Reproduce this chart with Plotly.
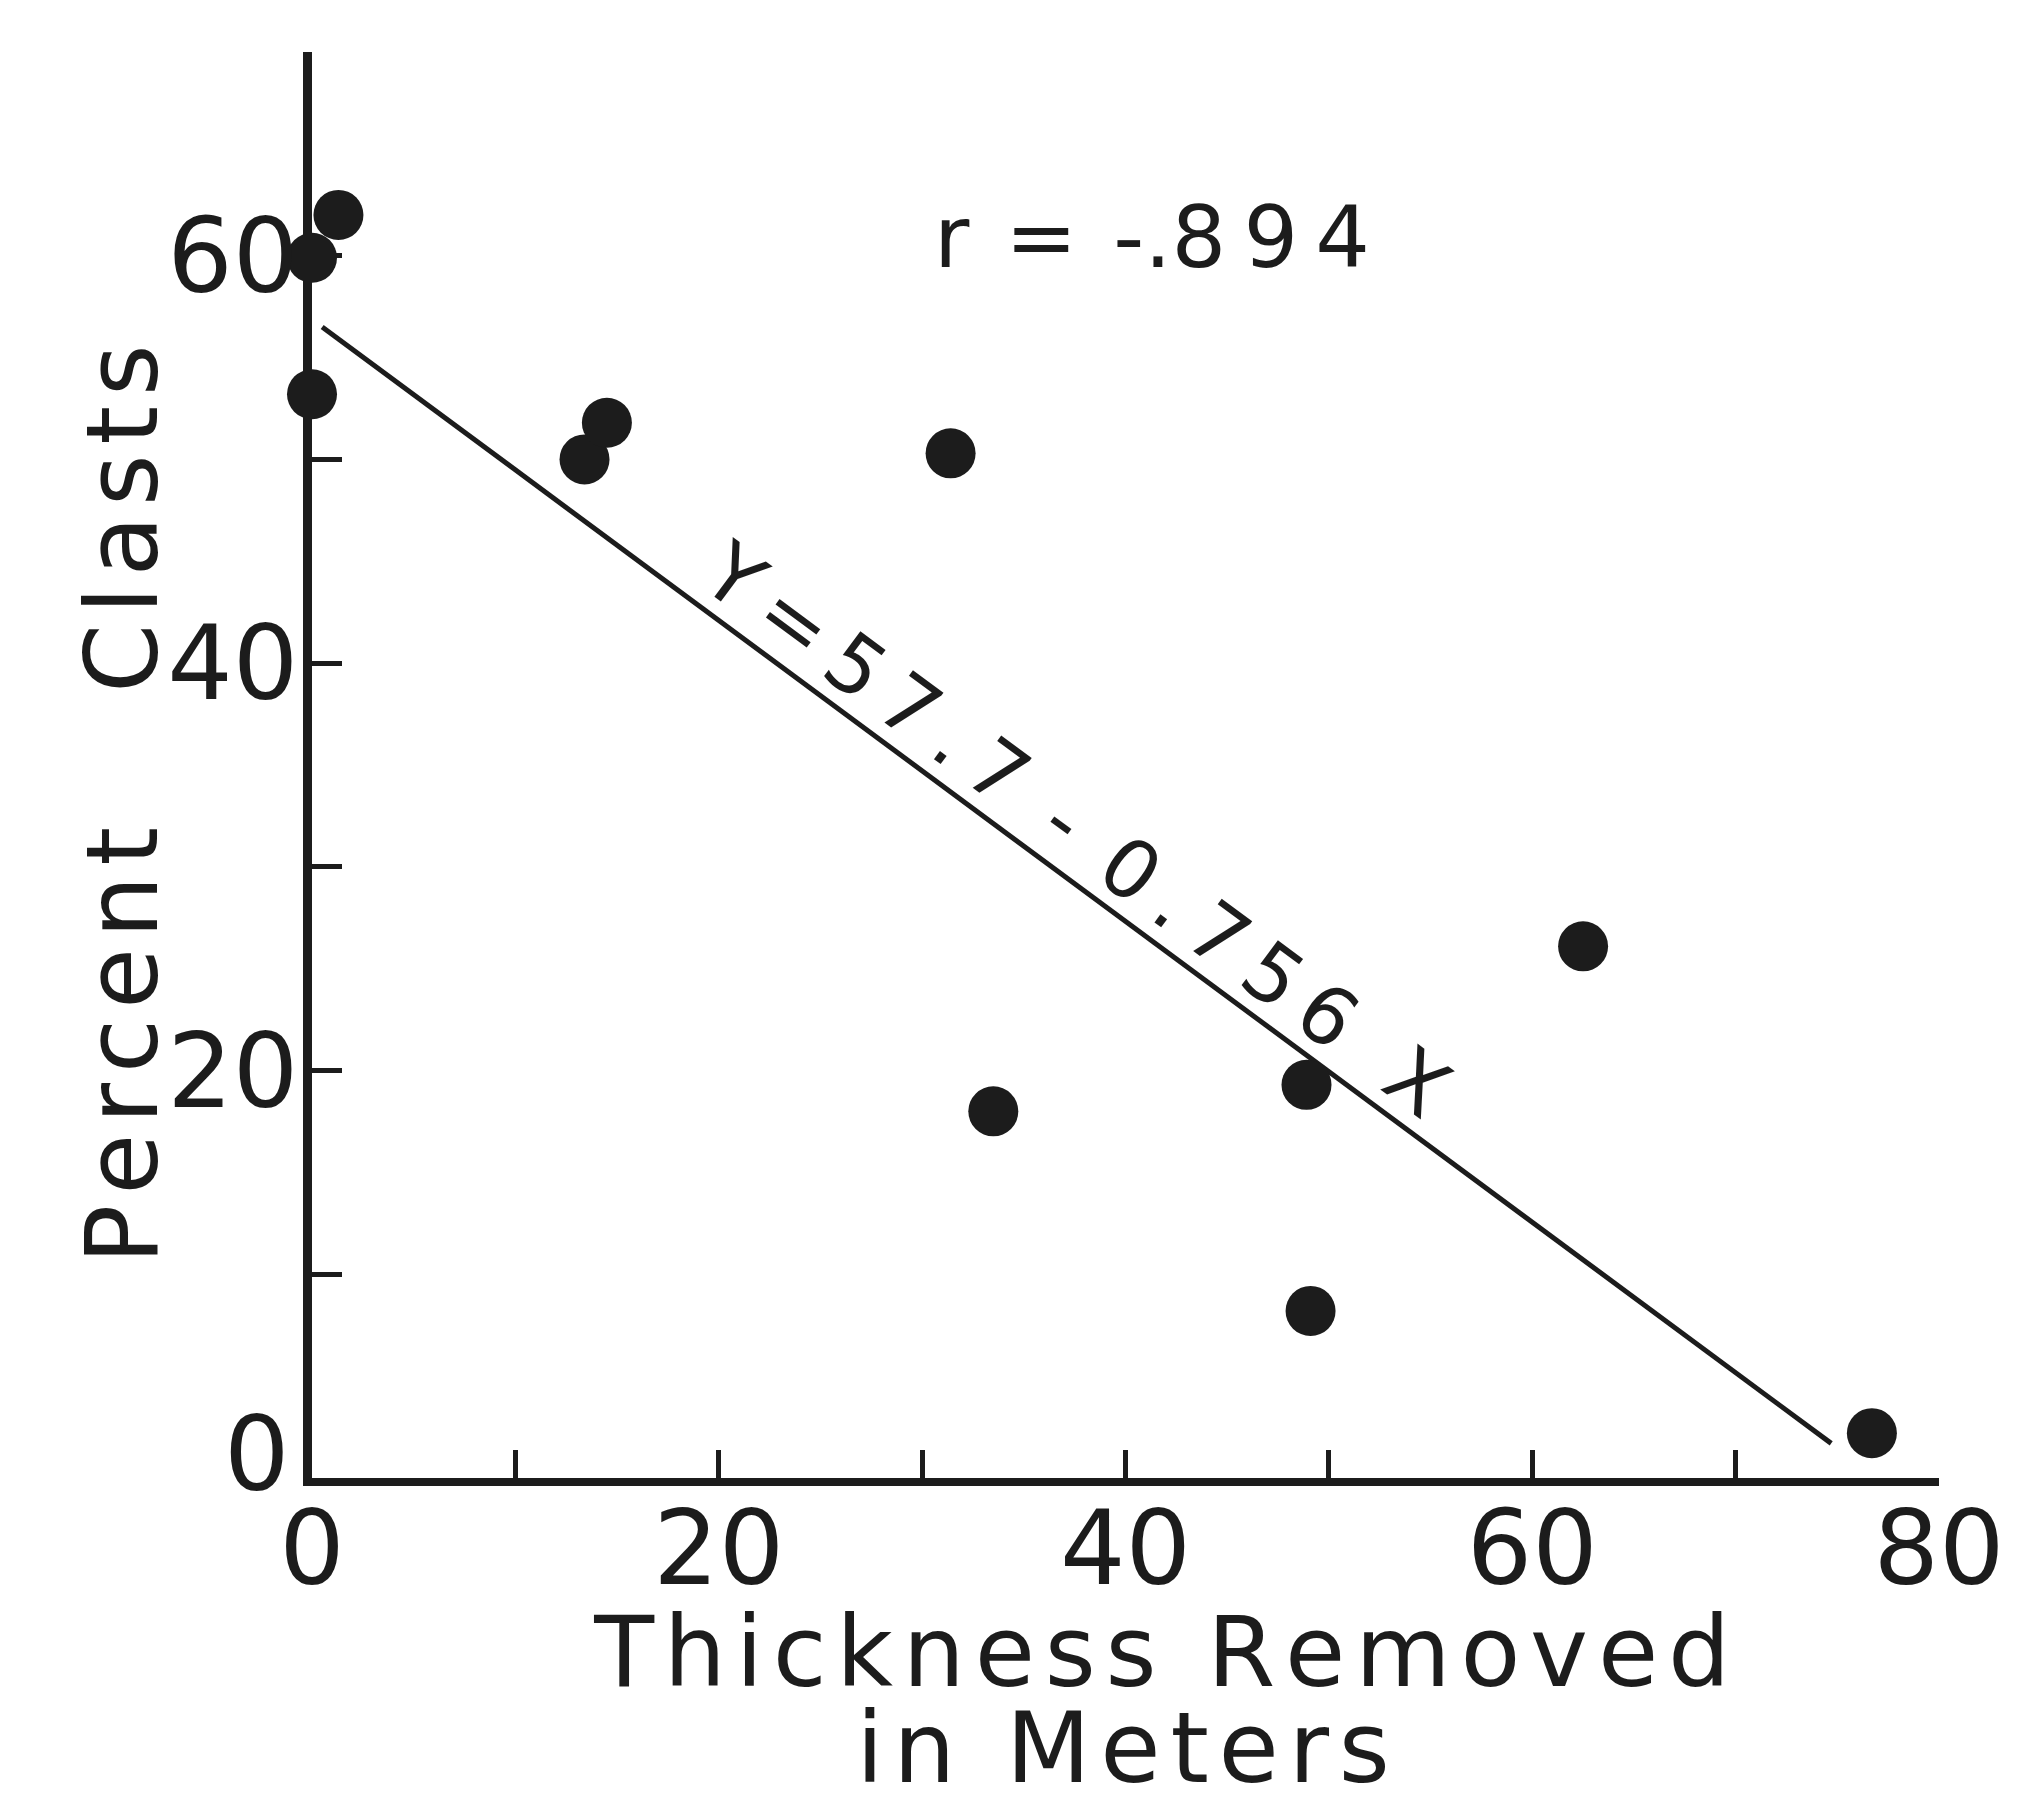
import plotly.graph_objects as go

# ---- data ----
thickness_m = [1.3, 0.0, 0.0, 13.4, 14.5, 31.4, 33.5, 48.9, 49.1, 62.5, 76.7]
percent_clasts = [62.0, 59.9, 53.2, 50.0, 51.8, 50.3, 18.0, 19.3, 8.2, 26.1, 2.2]

fit_x = [0.5, 74.7]
fit_y = [56.5, 1.7]

x_tick_vals = [0, 10, 20, 30, 40, 50, 60, 70, 80]
x_tick_text = ["0", "", "20", "", "40", "", "60", "", "80"]
y_tick_vals = [0, 10, 20, 30, 40, 50, 60, 70]
y_tick_text = ["", "", "20", "", "40", "", "60", ""]
y_zero_label = "0"

HAIR = "\u200a"
THIN = "\u2009"

# text pieces (joined with small spaces to mimic the wide letter spacing)
r_tokens = ["r" + HAIR + " = " + HAIR + "-.8", "9", "4"]
eq_tokens = ["Y", "=", "5", "7", ".", "7", " -", " 0", ".", "7", "5", "6", " \u2009X"]
x_title_1 = "Thickness Removed"
x_title_2 = "in Meters"
y_title = "Percent   Clasts"

INK = "#1c1c1c"
FONT = "DejaVu Sans, Liberation Sans, Arial, sans-serif"


def spaced(s, sep=HAIR):
    return sep.join(list(s))


def big(s, px):
    return '<span style="font-size:%dpx">%s</span>' % (px, s)


fig = go.Figure()

fig.add_trace(go.Scatter(
    x=fit_x, y=fit_y, mode="lines",
    line=dict(color=INK, width=5), hoverinfo="skip", showlegend=False,
))

fig.add_trace(go.Scatter(
    x=thickness_m, y=percent_clasts, mode="markers",
    marker=dict(color=INK, size=50, line=dict(width=0)),
    cliponaxis=False, showlegend=False,
))

fig.update_layout(
    width=2017, height=1804,
    margin=dict(l=312, r=68, t=52, b=326),
    paper_bgcolor="white", plot_bgcolor="white",
    font=dict(family=FONT, color=INK, size=100),
    showlegend=False,
)

fig.update_xaxes(
    range=[0, 80], showgrid=False, zeroline=False,
    showline=True, linecolor=INK, linewidth=8,
    ticks="inside", ticklen=28, tickwidth=5, tickcolor=INK,
    tickvals=x_tick_vals, ticktext=x_tick_text,
    tickfont=dict(size=103, family=FONT, color=INK),
    ticklabelstandoff=-26,
)
fig.update_yaxes(
    range=[0, 70], showgrid=False, zeroline=False,
    showline=True, linecolor=INK, linewidth=9,
    ticks="inside", ticklen=30, tickwidth=5, tickcolor=INK,
    tickvals=y_tick_vals, ticktext=y_tick_text,
    tickfont=dict(size=103, family=FONT, color=INK),
    ticklabelstandoff=-16,
)

x_title_text = (big(THIN * 2 + spaced(x_title_1), 98) + "<br>"
                + big(spaced(x_title_2) + THIN * 2, 98))

annotations = [
    dict(x=41.3, y=60.9, xref="x", yref="y", text=THIN.join(r_tokens),
         showarrow=False, font=dict(size=86, family=FONT, color=INK),
         xanchor="center", yanchor="middle"),
    dict(x=37.6, y=31.8, xref="x", yref="y", text=THIN.join(eq_tokens),
         showarrow=False, textangle=36.5, font=dict(size=81, family=FONT, color=INK),
         xanchor="center", yanchor="middle"),
    dict(x=0.5104, y=-0.1557, xref="paper", yref="paper", text=x_title_text,
         showarrow=False, font=dict(size=74, family=FONT, color=INK),
         xanchor="center", yanchor="middle", align="center"),
    dict(x=-0.0122, y=0.0168, xref="paper", yref="paper", text=y_zero_label,
         showarrow=False, font=dict(size=103, family=FONT, color=INK),
         xanchor="right", yanchor="middle"),
    dict(x=-0.116, y=0.4727, xref="paper", yref="paper", text=spaced(y_title),
         showarrow=False, textangle=-90, font=dict(size=99, family=FONT, color=INK),
         xanchor="center", yanchor="middle"),
]
fig.update_layout(annotations=annotations)

fig.write_html("out.html")
